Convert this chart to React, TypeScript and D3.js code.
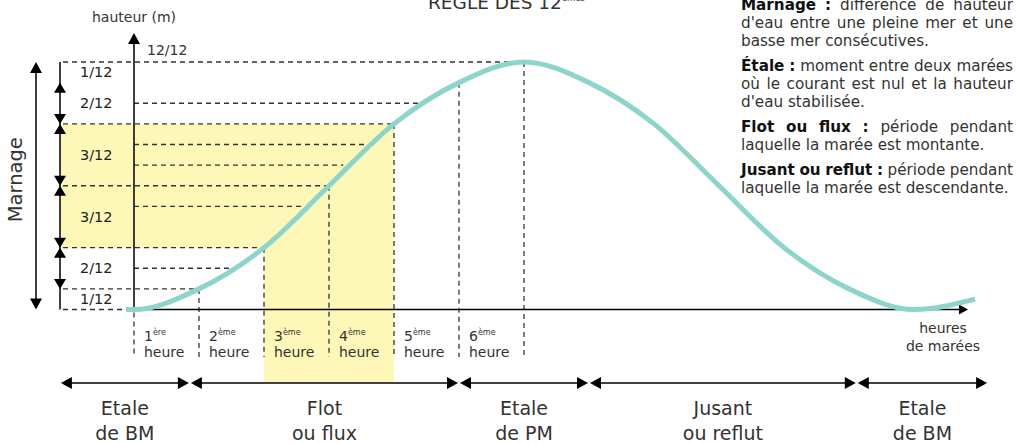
import * as d3 from 'd3'

const W = 1017
const H = 443
const FONT = '"DejaVu Sans", Lato, sans-serif'
const INK = '#333'

// courbe de la marée : heures depuis la BM, hauteur en douzièmes du marnage
const curveHours = [-0.12, 0, 1, 2, 3, 4, 5, 6, 7, 8, 9, 10, 11, 12, 12.94]
const curveLevels = [0, 0, 1, 3, 6, 9, 11, 12, 11, 9, 6, 3, 1, 0, 0.5]

// traits pointillés longs (depuis la colonne du marnage jusqu'à la courbe)
const longLevels = [0, 1, 3, 6, 9, 12]
const longHours = [0, 1, 2, 3, 4, 6]

// traits pointillés courts (depuis l'axe jusqu'à la courbe)
const shortLevels = [2, 5, 7, 8, 10]
const shortHours = [1.52, 2.6, 3.22, 3.58, 4.37]

// heures de montée
const hourTicks = [0, 1, 2, 3, 4, 5, 6]
const hourNums = ['1', '2', '3', '4', '5', '6']
const hourSups = ['ère', 'ème', 'ème', 'ème', 'ème', 'ème']

// douzièmes du marnage
const segLevels = [0, 1, 3, 6, 9, 11, 12]
const segLabels = ['1/12', '2/12', '3/12', '3/12', '2/12', '1/12']

// zone jaune (3e et 4e heures)
const bandLevels = [3, 9]
const bandHours = [2, 4]

// périodes en bas
const periodBounds = [-1.14, 0.86, 5.0, 7.0, 11.12, 13.14]
const periodTop = ['Etale', 'Flot', 'Etale', 'Jusant', 'Etale']
const periodBottom = ['de BM', 'ou flux', 'de PM', 'ou reflut', 'de BM']

// définitions
const noteTerms = ['Marnage :', 'Étale :', 'Flot ou flux :', 'Jusant ou reflut :']
const noteLines = [
  ['différence de hauteur', "d'eau entre une pleine mer et une", 'basse mer consécutives.'],
  ['moment entre deux marées', 'où le courant est nul et la hauteur', "d'eau stabilisée."],
  ['période pendant', 'laquelle la marée est montante.'],
  ['période pendant', 'laquelle la marée est descendante.'],
]

const ctx = document.createElement('canvas').getContext('2d')
function textWidth(s: string, size: number, bold: boolean) {
  if (!ctx) return s.length * size * 0.58
  ctx.font = `${bold ? 'bold ' : ''}${size}px ${FONT}`
  return ctx.measureText(s).width
}

function upTri(cx: number, ty: number, w: number, len: number) {
  return `${cx},${ty} ${cx - w / 2},${ty + len} ${cx + w / 2},${ty + len}`
}
function downTri(cx: number, ty: number, w: number, len: number) {
  return `${cx},${ty} ${cx - w / 2},${ty - len} ${cx + w / 2},${ty - len}`
}
function leftTri(tx: number, cy: number, w: number, len: number) {
  return `${tx},${cy} ${tx + len},${cy - w / 2} ${tx + len},${cy + w / 2}`
}
function rightTri(tx: number, cy: number, w: number, len: number) {
  return `${tx},${cy} ${tx - len},${cy - w / 2} ${tx - len},${cy + w / 2}`
}

function Notes() {
  const left = 741
  const width = 272
  const size = 15.2
  const lineH = 18
  const paraGap = 25
  const out: any[] = []
  let base = 10
  noteLines.forEach((lines, p) => {
    lines.forEach((line, i) => {
      const words: { t: string; b: boolean }[] = []
      if (i === 0) noteTerms[p].split(' ').forEach((t) => words.push({ t, b: true }))
      line.split(' ').forEach((t) => words.push({ t, b: false }))
      const widths = words.map((w) => textWidth(w.t, size, w.b))
      const total = widths.reduce((a, b) => a + b, 0)
      const justify = i < lines.length - 1
      const gap = justify ? (width - total) / (words.length - 1) : textWidth(' ', size, false)
      let cx = left
      out.push(
        <text key={`${p}-${i}`} y={base} fontFamily={FONT} fontSize={size} fill={INK}>
          {words.map((w, k) => {
            const xx = cx
            cx += widths[k] + gap
            return (
              <tspan key={k} x={xx} fontWeight={w.b ? 'bold' : 'normal'} fill={w.b ? '#111' : INK}>
                {w.t}
              </tspan>
            )
          })}
        </text>
      )
      base += i < lines.length - 1 ? lineH : paraGap
    })
  })
  return <g>{out}</g>
}

export default function App() {
  const x = d3.scaleLinear().domain([0, 6]).range([134, 524])
  const y = d3.scaleLinear().domain([0, 12]).range([309.5, 62])

  const colX = 60
  const marnX = 36
  const hourBottom = 357
  const periodY = 383

  const levelAt = (h: number) => curveLevels[curveHours.indexOf(h)]

  const line = d3
    .line<number>()
    .x((_, i) => x(curveHours[i]))
    .y((d) => y(d))
    .curve(d3.curveMonotoneX)

  const dash = { stroke: INK, strokeWidth: 1.3, strokeDasharray: '5 4', fill: 'none' }

  const bandRight = x(bandHours[1])
  const bandPath =
    `M${colX},${y(bandLevels[1])} H${bandRight} V${periodY - 1} H${x(bandHours[0])} ` +
    `V${y(bandLevels[0])} H${colX} Z`

  return (
    <svg width={W} height={H} style={{ position: 'absolute', left: 0, top: 0, background: '#fff' }}>
      {/* zone jaune */}
      <path d={bandPath} fill="#fdf8b8" />

      {/* titre */}
      <text x={428} y={9} fontFamily={FONT} fontSize={18.5} fill={INK}>
        RÈGLE DES 12
        <tspan fontSize={8.5} dy={-8}>
          èmes
        </tspan>
      </text>

      {/* pointillés */}
      {longLevels.map((l, i) => (
        <line key={'l' + i} x1={colX + 3} x2={x(longHours[i])} y1={y(l)} y2={y(l)} {...dash} />
      ))}
      {shortLevels.map((l, i) => (
        <line key={'s' + i} x1={x(0)} x2={x(shortHours[i])} y1={y(l)} y2={y(l)} {...dash} />
      ))}
      {hourTicks.map((h) => (
        <line
          key={'v' + h}
          x1={x(h)}
          x2={x(h)}
          y1={h === 0 ? y(0) + 3 : y(levelAt(h))}
          y2={hourBottom}
          {...dash}
        />
      ))}

      {/* axes */}
      <line x1={x(0)} x2={x(0)} y1={y(0)} y2={40} stroke="#000" strokeWidth={1.5} />
      <polygon points={upTri(x(0), 33, 12, 11)} fill="#000" />
      <line x1={x(0)} x2={960} y1={y(0)} y2={y(0)} stroke="#000" strokeWidth={1.5} />
      <polygon points={rightTri(968, y(0), 10, 9)} fill="#000" />

      <text x={x(0)} y={22} textAnchor="middle" fontFamily={FONT} fontSize={14} fill={INK}>
        hauteur (m)
      </text>
      <text x={147} y={55} fontFamily={FONT} fontSize={14} fill={INK}>
        12/12
      </text>
      <text textAnchor="middle" fontFamily={FONT} fontSize={14} fill={INK}>
        <tspan x={943} y={333}>
          heures
        </tspan>
        <tspan x={943} y={351}>
          de marées
        </tspan>
      </text>

      {/* courbe */}
      <path d={line(curveLevels) || ''} fill="none" stroke="#8dd5cb" strokeWidth={5} strokeLinecap="butt" />

      {/* colonne des douzièmes */}
      <line x1={colX} x2={colX} y1={y(12)} y2={y(0)} stroke="#000" strokeWidth={1.5} />
      {segLabels.map((lab, i) => {
        const lo = segLevels[i]
        const hi = segLevels[i + 1]
        const inner = i > 0 && i < segLabels.length - 1
        return (
          <g key={'seg' + i}>
            {inner && (
              <>
                <polygon points={upTri(colX, y(hi), 12, 10)} fill="#000" />
                <polygon points={downTri(colX, y(lo), 12, 10)} fill="#000" />
              </>
            )}
            <text
              x={80}
              y={y((lo + hi) / 2) + 5}
              fontFamily={FONT}
              fontSize={14.5}
              fill="#222"
            >
              {lab}
            </text>
          </g>
        )
      })}

      {/* marnage */}
      <line x1={marnX} x2={marnX} y1={y(12) + 8} y2={y(0) - 8} stroke="#000" strokeWidth={1.5} />
      <polygon points={upTri(marnX, y(12), 12, 11)} fill="#000" />
      <polygon points={downTri(marnX, y(0), 12, 11)} fill="#000" />
      <text
        transform={`translate(22,${y(6) - 6}) rotate(-90)`}
        textAnchor="middle"
        fontFamily={FONT}
        fontSize={19.5}
        fill={INK}
      >
        Marnage
      </text>

      {/* heures */}
      {hourNums.map((n, i) => (
        <g key={'h' + i} fontFamily={FONT} fill={INK}>
          <text x={x(i) + 10} y={341} fontSize={14}>
            {n}
            <tspan fontSize={8} dy={-6}>
              {hourSups[i]}
            </tspan>
          </text>
          <text x={x(i) + 10} y={357} fontSize={14}>
            heure
          </text>
        </g>
      ))}

      {/* périodes */}
      {periodTop.map((t, i) => {
        const a = x(periodBounds[i])
        const b = x(periodBounds[i + 1])
        const m = (a + b) / 2
        return (
          <g key={'p' + i}>
            <line x1={a + 6} x2={b - 6} y1={periodY} y2={periodY} stroke="#000" strokeWidth={1.5} />
            <polygon points={leftTri(a + 1, periodY, 12, 11)} fill="#000" />
            <polygon points={rightTri(b - 1, periodY, 12, 11)} fill="#000" />
            <text textAnchor="middle" fontFamily={FONT} fontSize={19} fill={INK}>
              <tspan x={m} y={415}>
                {t}
              </tspan>
              <tspan x={m} y={440}>
                {periodBottom[i]}
              </tspan>
            </text>
          </g>
        )
      })}

      <Notes />
    </svg>
  )
}
